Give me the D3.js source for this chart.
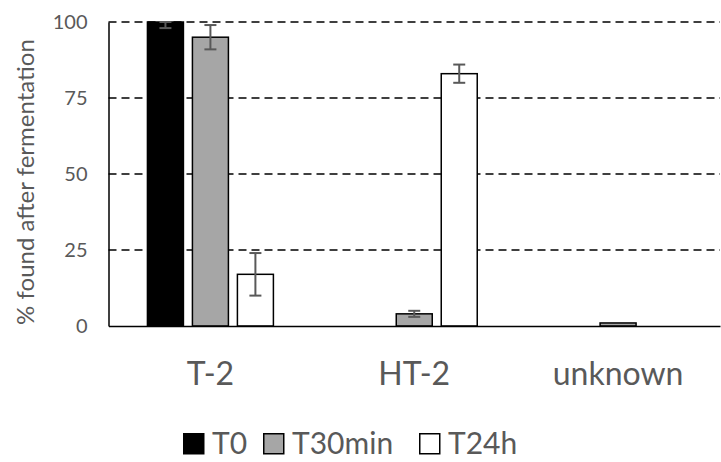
<!DOCTYPE html>
<html>
<head>
<meta charset="utf-8">
<script src="https://cdn.jsdelivr.net/npm/d3@7"></script>
<style>
  html, body { margin: 0; padding: 0; background: #fff; }
  svg { display: block; font-family: Lato, "Open Sans", sans-serif; }
</style>
</head>
<body>
<svg id="chart" width="721" height="462"></svg>
<script>
// Toxin categories and sampling times
const categories = ["T-2", "HT-2", "unknown"];
const series = ["T0", "T30min", "T24h"];

// Mean % found after fermentation, one array per sampling time
const valuesT0 = [100, 0, 0];
const valuesT30min = [95, 4, 1];
const valuesT24h = [17, 83, 0];

// Standard deviations (0 = no error bar)
const errT0 = [2, 0, 0];
const errT30min = [4, 1, 0];
const errT24h = [7, 3, 0];

const yTicks = [0, 25, 50, 75, 100];

const fills = { "T0": "#000000", "T30min": "#a6a6a6", "T24h": "#ffffff" };
const textGray = "#595959";

const rows = [];
categories.forEach((c, i) => {
  rows.push({ cat: c, s: "T0", v: valuesT0[i], e: errT0[i] });
  rows.push({ cat: c, s: "T30min", v: valuesT30min[i], e: errT30min[i] });
  rows.push({ cat: c, s: "T24h", v: valuesT24h[i], e: errT24h[i] });
});

const svg = d3.select("#chart");
const margin = { left: 108.5, right: 1, top: 22, bottom: 136 };
const W = 721, H = 462;
const plotW = W - margin.left - margin.right;
const plotH = H - margin.top - margin.bottom;

const g = svg.append("g").attr("transform", `translate(${margin.left},${margin.top})`);

const x0 = d3.scaleBand().domain(categories).range([0, plotW]).paddingInner(0.382).paddingOuter(0.191);
const x1 = d3.scaleBand().domain(series).range([0, x0.bandwidth()]).paddingInner(0.2);
const y = d3.scaleLinear().domain([0, 100]).range([plotH, 0]);

// Dashed horizontal gridlines
g.append("g").selectAll("line")
  .data(yTicks.filter(t => t > 0))
  .join("line")
  .attr("x1", 0).attr("x2", plotW)
  .attr("y1", d => y(d)).attr("y2", d => y(d))
  .attr("stroke", "#000").attr("stroke-width", 1.5)
  .attr("stroke-dasharray", "8,5");

// Y axis with tick labels
const yAxis = d3.axisLeft(y).tickValues(yTicks).tickSize(0).tickPadding(21);
const ya = g.append("g").call(yAxis);
ya.select(".domain").attr("stroke", "#000").attr("stroke-width", 1.5);
ya.selectAll("text").attr("fill", textGray).attr("font-size", 20)
  .attr("font-family", "Lato, 'Open Sans', sans-serif");

// Bars
const groups = g.append("g").selectAll("g")
  .data(categories).join("g")
  .attr("transform", d => `translate(${x0(d)},0)`);

groups.selectAll("rect")
  .data(c => rows.filter(r => r.cat === c && r.v > 0))
  .join("rect")
  .attr("x", d => x1(d.s))
  .attr("y", d => y(d.v))
  .attr("width", x1.bandwidth())
  .attr("height", d => y(0) - y(d.v))
  .attr("fill", d => fills[d.s])
  .attr("stroke", "#000").attr("stroke-width", 1.5);

// Error bars
const eb = groups.selectAll("g.err")
  .data(c => rows.filter(r => r.cat === c && r.e > 0))
  .join("g").attr("class", "err")
  .attr("stroke", textGray).attr("stroke-width", 2);
eb.append("line")
  .attr("x1", d => x1(d.s) + x1.bandwidth() / 2)
  .attr("x2", d => x1(d.s) + x1.bandwidth() / 2)
  .attr("y1", d => y(Math.min(100, d.v + d.e)))
  .attr("y2", d => y(d.v - d.e));
eb.append("line")
  .attr("x1", d => x1(d.s) + x1.bandwidth() / 2 - 6)
  .attr("x2", d => x1(d.s) + x1.bandwidth() / 2 + 6)
  .attr("y1", d => y(Math.min(100, d.v + d.e)))
  .attr("y2", d => y(Math.min(100, d.v + d.e)));
eb.append("line")
  .attr("x1", d => x1(d.s) + x1.bandwidth() / 2 - 6)
  .attr("x2", d => x1(d.s) + x1.bandwidth() / 2 + 6)
  .attr("y1", d => y(d.v - d.e))
  .attr("y2", d => y(d.v - d.e));

// X axis
const xAxis = d3.axisBottom(x0).tickSize(0).tickPadding(36);
const xa = g.append("g").attr("transform", `translate(0,${plotH})`).call(xAxis);
xa.select(".domain").attr("stroke", "#000").attr("stroke-width", 1.5);
xa.selectAll("text").attr("fill", textGray).attr("font-size", 32)
  .attr("font-family", "Lato, 'Open Sans', sans-serif");

// Y axis title
svg.append("text")
  .attr("transform", `translate(34,${margin.top + plotH / 2 + 8}) rotate(-90)`)
  .attr("text-anchor", "middle")
  .attr("fill", textGray).attr("font-size", 24)
  .text("% found after fermentation");

// Legend
const legendX = [183, 263, 419];
const leg = svg.append("g").selectAll("g")
  .data(series).join("g")
  .attr("transform", (d, i) => `translate(${legendX[i]},433)`);
leg.append("rect")
  .attr("x", 0.75).attr("y", 0.75).attr("width", 20).attr("height", 20)
  .attr("fill", d => fills[d]).attr("stroke", "#000").attr("stroke-width", 1.5);
leg.append("text")
  .attr("x", 29).attr("y", 21)
  .attr("fill", textGray).attr("font-size", 30)
  .text(d => d);
</script>
</body>
</html>
